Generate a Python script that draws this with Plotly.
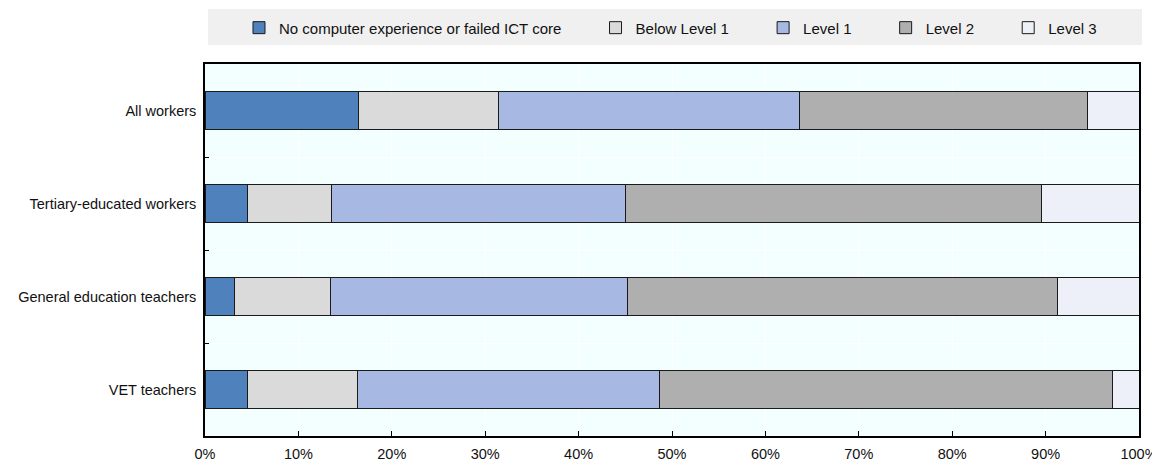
import plotly.graph_objects as go

# shares of each group by proficiency level (%)
groups = ["All workers", "Tertiary-educated workers", "General education teachers", "VET teachers"]
levels = ["No computer experience or failed ICT core", "Below Level 1", "Level 1", "Level 2", "Level 3"]
no_computer = [16.4, 4.6, 3.2, 4.5]
below_l1 = [15.0, 8.9, 10.2, 11.8]
level1 = [32.2, 31.5, 31.8, 32.4]
level2 = [30.9, 44.6, 46.1, 48.5]
level3 = [5.5, 10.4, 8.7, 2.8]
colors = ["#4F81BD", "#DADADA", "#A7B9E3", "#AFAFAF", "#EDF0F8"]

series = [no_computer, below_l1, level1, level2, level3]
pad = "\u00a0" * 7  # widen the gap between legend entries

fig = go.Figure()
for name, vals, col in zip(levels, series, colors):
    fig.add_trace(go.Bar(
        y=groups, x=vals, name=name + pad, orientation="h",
        marker=dict(color=col, line=dict(color="#1a1a1a", width=1)),
        width=0.4,
    ))

# grey band behind the legend
fig.add_shape(type="rect", xref="paper", yref="paper",
              x0=0.0032, x1=1.0032, y0=1.051, y1=1.148,
              fillcolor="#F0F0F0", line=dict(width=0), layer="below")

font_family = "Liberation Sans, Arial, sans-serif"

# page has an 8px body margin, so the figure is 8px smaller than the window
fig.update_layout(
    width=1152, height=459,
    barmode="stack",
    paper_bgcolor="white",
    plot_bgcolor="#F3FEFF",
    font=dict(family=font_family, size=14.5, color="#111"),
    margin=dict(l=197, r=21, t=56, b=31, autoexpand=False),
    legend=dict(orientation="h", x=0.0364, xanchor="left", y=1.097, yanchor="middle",
                bgcolor="rgba(0,0,0,0)", font=dict(family=font_family, size=15),
                traceorder="normal", itemclick=False),
    showlegend=True,
)
fig.update_xaxes(
    range=[0, 100], dtick=10, ticksuffix="%",
    showgrid=True, gridcolor="white", gridwidth=1,
    ticks="inside", ticklen=5, tickcolor="black",
    showline=True, linecolor="black", linewidth=1.5, mirror=True,
    zeroline=False, automargin=False, ticklabelstandoff=4,
)
fig.update_yaxes(
    categoryorder="array", categoryarray=groups, autorange="reversed",
    tickson="boundaries", ticks="inside", ticklen=4, tickcolor="black",
    showgrid=True, gridcolor="white", gridwidth=1,
    showline=True, linecolor="black", linewidth=1.5, mirror=True,
    ticklabelstandoff=4, automargin=False,
)

fig.write_html("out.html")
